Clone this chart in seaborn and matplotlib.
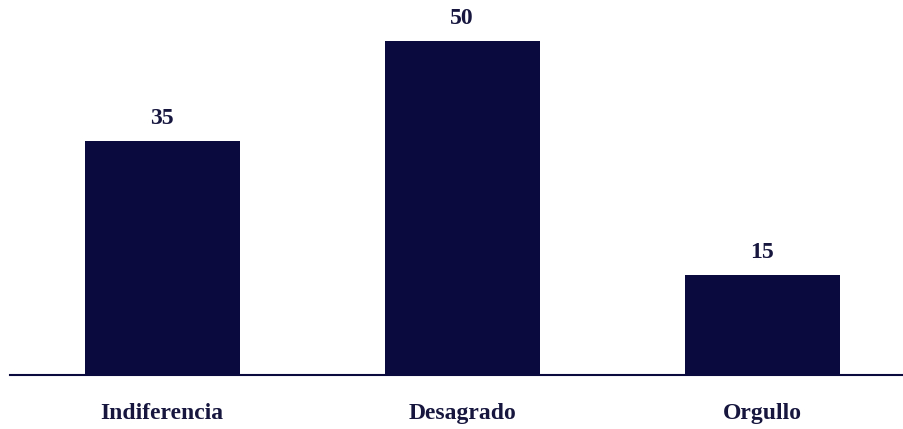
import matplotlib
matplotlib.use('Agg')
import matplotlib.pyplot as plt
import seaborn as sns
import pandas as pd

# Data
categories = ['Indiferencia', 'Desagrado', 'Orgullo']
values = [35, 50, 15]

bar_color = '#0b0a3f'
text_color = '#16163f'

sns.set_style('white')
plt.rcParams['font.family'] = ['Liberation Serif', 'DejaVu Serif']

df = pd.DataFrame({'categoria': categories, 'valor': values})

fig = plt.figure(figsize=(9.04, 4.29), dpi=100)
ax = fig.add_axes([10 / 904, 54 / 429, 894 / 904, 375 / 429])

sns.barplot(data=df, x='categoria', y='valor', color=bar_color,
            saturation=1, width=0.517, linewidth=0, ax=ax)

ax.set_xlim(-0.507, 2.473)
ax.set_ylim(0, 56.1)

for i, v in enumerate(values):
    ax.text(i, v + 1.8, f'{v}', ha='center', va='bottom',
            fontsize=17, fontweight='bold', color=text_color)

for s in ['top', 'right', 'left']:
    ax.spines[s].set_visible(False)
ax.spines['bottom'].set_color(bar_color)
ax.spines['bottom'].set_linewidth(1.5)

ax.set_yticks([])
ax.set_xlabel('')
ax.set_ylabel('')
ax.tick_params(axis='x', length=0, pad=20)
for lbl in ax.get_xticklabels():
    lbl.set_fontsize(17)
    lbl.set_fontweight('bold')
    lbl.set_color(text_color)

fig.savefig('out.png', dpi=100, facecolor='white')
